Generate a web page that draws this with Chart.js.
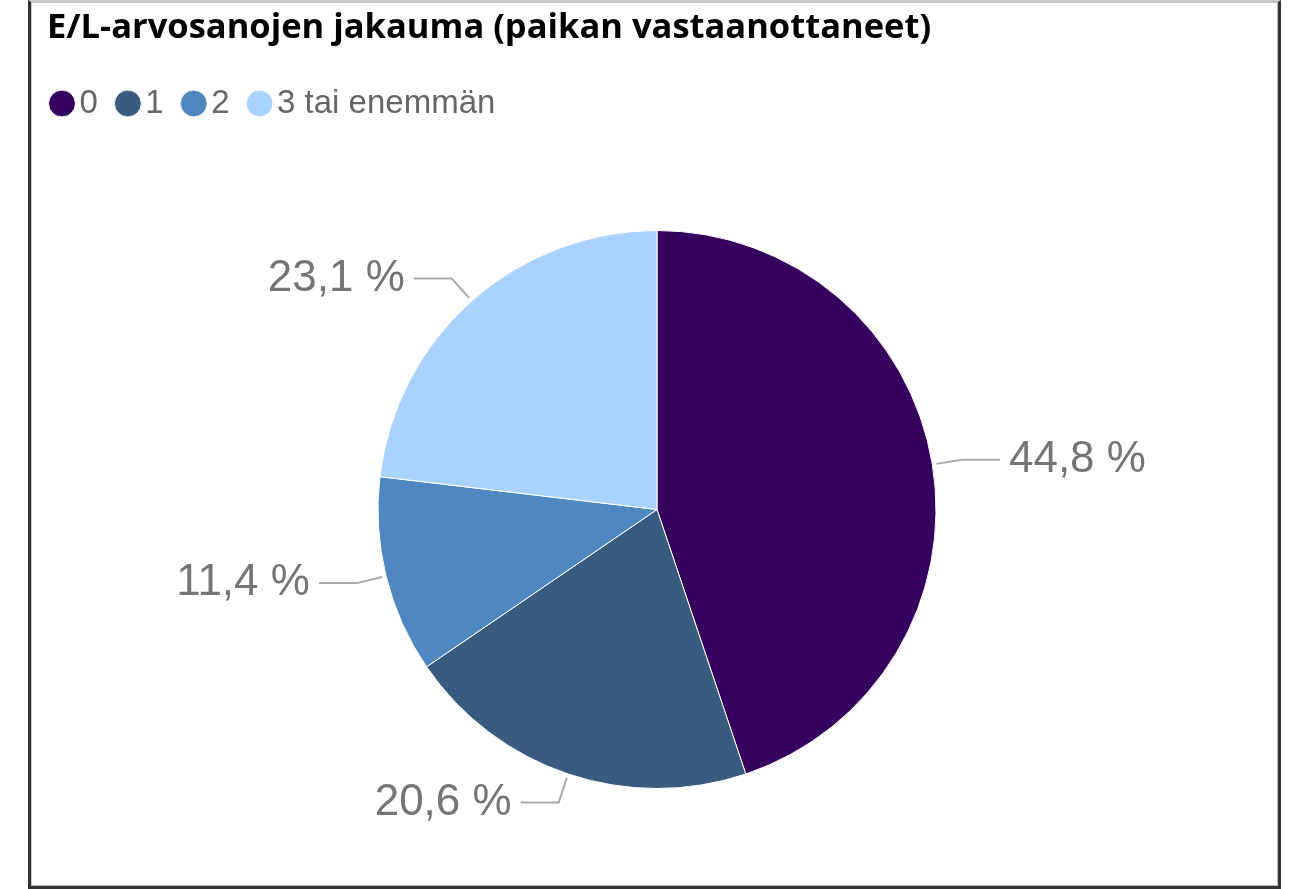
<!DOCTYPE html>
<html>
<head>
<meta charset="utf-8">
<script src="https://cdn.jsdelivr.net/npm/chart.js@4"></script>
<style>
  body { margin: 0; background: #fff; width: 1295px; height: 889px; overflow: hidden; position: relative; }
  #frame {
    position: absolute; left: 28px; top: 0; width: 1253px; height: 889px;
    box-sizing: border-box;
    border: 3px solid #333; border-top: 2px solid #c8c8c8;
    box-shadow: inset 0 0 0 1px #c4c4c4;
    pointer-events: none; z-index: 2;
  }
  #wrap { position: absolute; left: 32px; top: 2px; width: 1250px; height: 887px; }
</style>
</head>
<body>
<div id="wrap"><canvas id="pieChart"></canvas></div>
<div id="frame"></div>
<script>
const chartTitle = 'E/L-arvosanojen jakauma (paikan vastaanottaneet)';
const categories = ['0', '1', '2', '3 tai enemmän'];
const shares = [44.8, 20.6, 11.4, 23.1];
const sliceColors = ['#36005f', '#395b80', '#4f88c0', '#a9d3fe'];

// title drawn at the frame's left edge
const titlePlugin = {
    id: 'titleText',
    afterDraw(chart) {
        const ctx = chart.ctx;
        ctx.save();
        ctx.font = 'bold 34.5px "Open Sans"';
        ctx.fillStyle = '#000';
        ctx.textAlign = 'left';
        ctx.textBaseline = 'alphabetic';
        ctx.fillText(chartTitle, 15, 36);
        ctx.restore();
    }
};

// outside labels with leader lines
const sliceLabels = {
    id: 'sliceLabels',
    afterDatasetsDraw(chart) {
        const ctx = chart.ctx;
        const meta = chart.getDatasetMeta(0);
        ctx.save();
        ctx.font = '44px "Liberation Sans"';
        ctx.textBaseline = 'middle';
        meta.data.forEach(function(arc, i) {
            const p = arc.getProps(['x', 'y', 'startAngle', 'endAngle', 'outerRadius'], true);
            const mid = (p.startAngle + p.endAngle) / 2;
            const cos = Math.cos(mid), sin = Math.sin(mid);
            const x1 = p.x + cos * (p.outerRadius + 4);
            const y1 = p.y + sin * (p.outerRadius + 4);
            const x2 = p.x + cos * (p.outerRadius + 30);
            const y2 = p.y + sin * (p.outerRadius + 30);
            const right = cos >= 0;
            const x3 = x2 + (right ? 38 : -38);
            ctx.strokeStyle = '#aaa';
            ctx.lineWidth = 2;
            ctx.beginPath();
            ctx.moveTo(x1, y1);
            ctx.lineTo(x2, y2);
            ctx.lineTo(x3, y2);
            ctx.stroke();
            ctx.fillStyle = '#757575';
            ctx.textAlign = right ? 'left' : 'right';
            const txt = shares[i].toFixed(1).replace('.', ',') + ' %';
            ctx.fillText(txt, x3 + (right ? 9 : -9), y2);
        });
        ctx.restore();
    }
};

new Chart(document.getElementById('pieChart'), {
    type: 'pie',
    data: {
        labels: categories,
        datasets: [{
            data: shares,
            backgroundColor: sliceColors,
            borderColor: '#fff',
            borderWidth: 1,
            radius: 279
        }]
    },
    options: {
        responsive: true,
        maintainAspectRatio: false,
        animation: false,
        layout: { padding: { left: 0, right: 0, top: 56, bottom: 0 } },
        plugins: {
            title: { display: false },
            tooltip: { enabled: false },
            legend: {
                position: 'top',
                align: 'start',
                labels: {
                    usePointStyle: true,
                    pointStyle: 'circle',
                    boxWidth: 2,
                    boxHeight: 19,
                    padding: 29,
                    color: '#666',
                    font: { family: '"Liberation Sans"', size: 33 }
                }
            }
        }
    },
    plugins: [titlePlugin, sliceLabels]
});
</script>
</body>
</html>
